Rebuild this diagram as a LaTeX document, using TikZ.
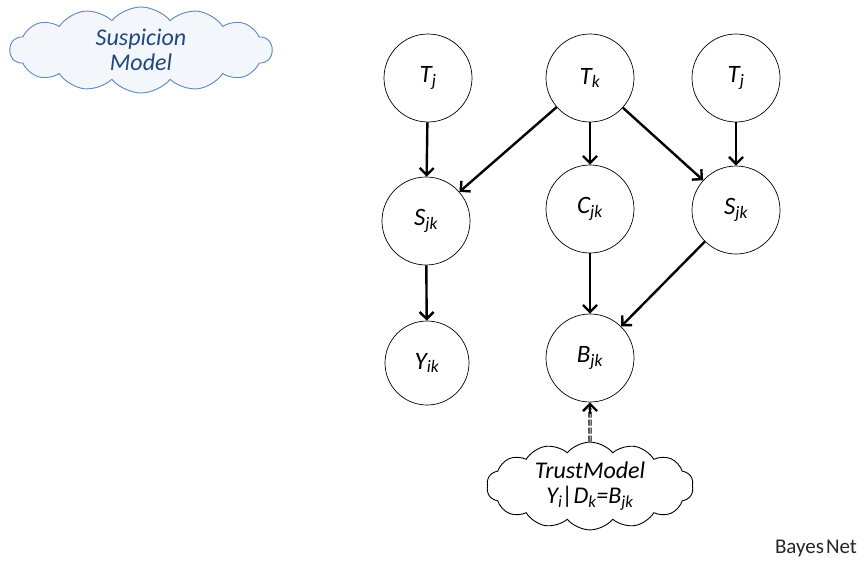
\documentclass[tikz,border=0pt]{standalone}
\usepackage{fontspec}
\setmainfont{Carlito}
\usetikzlibrary{arrows.meta,shapes.symbols}
\definecolor{cloudblue}{HTML}{5B87C2}
\definecolor{cloudfill}{HTML}{F3F6FB}
\definecolor{cloudtext}{HTML}{1F497D}
\definecolor{bnetgray}{HTML}{262626}

\begin{document}
\begin{tikzpicture}[x=1pt, y=-1pt,
  var/.style={draw, circle, line width=0.7pt, minimum size=88pt, inner sep=0pt,
    font=\fontsize{25}{27}\selectfont\itshape},
  edge/.style={line width=2.4pt, -{Straight Barb[length=7pt,width=14pt,line width=2.4pt]}},
  cloudnote/.style={cloud, cloud puffs=14, cloud puff arc=100, aspect=3, draw, line width=0.9pt,
    align=center, inner sep=0pt, font=\fontsize{24}{25}\selectfont\itshape}]
\useasboundingbox (0,0) rectangle (865,562);
% top row
\node[var] (tj1) at (428,78) {T\textsubscript{j}};
\node[var] (tk) at (590,78) {T\textsubscript{k}};
\node[var] (tj2) at (736,78) {T\textsubscript{j}};
% middle row
\node[var] (sjk1) at (426,221) {S\textsubscript{jk}};
\node[var] (cjk) at (590,209) {C\textsubscript{jk}};
\node[var] (sjk2) at (736,210) {S\textsubscript{jk}};
% bottom row
\node[var, minimum size=84pt] (yik) at (427,363) {Y\textsubscript{ik}};
\node[var] (bjk) at (590,358) {B\textsubscript{jk}};
% clouds
\node[cloudnote, draw=cloudblue, fill=cloudfill, text=cloudtext,
  minimum width=262pt, minimum height=86pt] (susp) at (141,50) {Suspicion\\Model};
\node[cloudnote, fill=white, minimum width=184pt, minimum height=74pt] (trust) at (590,486)
  {TrustModel\\Y\textsubscript{i}|D\textsubscript{k}=B\textsubscript{jk}};
\node[font=\fontsize{21}{24}\selectfont, text=bnetgray] (bnet) at (816,548) {Bayes\hspace{2pt}Net};

\draw[edge] (tj1) -- (sjk1);
\draw[edge] (tk) -- (sjk1);
\draw[edge] (tk) -- (cjk);
\draw[edge] (tk) -- (sjk2);
\draw[edge] (tj2) -- (sjk2);
\draw[edge] (sjk1) -- (yik);
\draw[edge] (cjk) -- (bjk);
\draw[edge] (sjk2) -- (bjk);
\draw[line width=1.2pt, double, double distance=1pt, dash pattern=on 6pt off 2pt, shorten >=6pt] (trust) -- (bjk);
\draw[edge] ([yshift=-12pt]bjk.south) -- (bjk);
\end{tikzpicture}
\end{document}
